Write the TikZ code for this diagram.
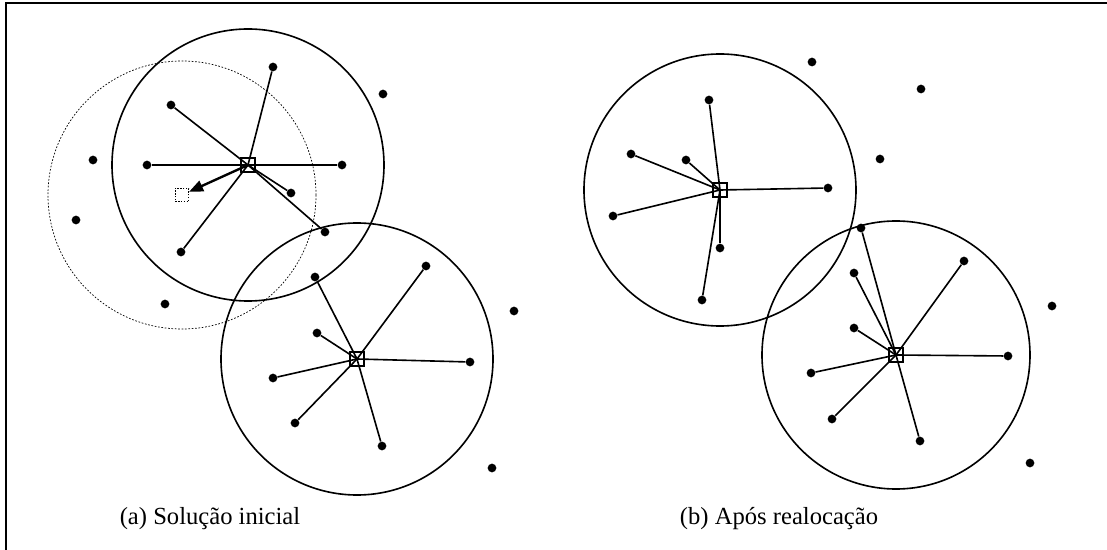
\documentclass[tikz,border=0pt]{standalone}
\usepackage{fontspec}
\setmainfont{Liberation Serif}
\usetikzlibrary{arrows.meta}
\tikzset{
  ponto/.style={circle,fill=black,inner sep=0pt,minimum size=6.2pt},
  facilidade/.style={draw,line width=1.4pt,inner sep=0pt,minimum size=9.5pt},
  novo/.style={draw,line width=0.5pt,dash pattern=on 1pt off 1pt,inner sep=0pt,minimum size=9.5pt},
  raio/.style={line width=1.15pt},
  ligacao/.style={line width=1.15pt},
  rotulo/.style={font=\fontsize{17.5}{20}\selectfont}
}
\begin{document}
\begin{tikzpicture}[x=0.025cm,y=-0.025cm]
\useasboundingbox (0,0) rectangle (1107,550);
\draw[line width=1.6pt] (6,550) -- (6,3) -- (1107,3);
% (a) solucao inicial
\node[facilidade] (fa1) at (248,165) {};
\node[facilidade] (fa2) at (357,359) {};
\node[novo] (fn) at (182,195) {};
\draw[raio] (fa1.center) circle (136);
\draw[line width=0.5pt,dash pattern=on 1.2pt off 1.2pt] (fn.center) circle (134);
\draw[raio] (fa2.center) circle (136);
\foreach \n/\x/\y in {a1/273/67,a2/171/105,a3/147/165,a4/342/165,a5/291/193,a6/325/232,a7/181/252,
  a8/315/277,a9/426/266,a10/317/333,a11/273/378,a12/470/362,a13/295/423,a14/382/446,
  ao1/383/94,ao2/93/160,ao3/76/220,ao4/165/304,ao5/514/311,ao6/492/468}
  \node[ponto] (\n) at (\x,\y) {};
\foreach \n in {a1,a2,a3,a4,a5,a6,a7}
  \draw[ligacao] (fa1.center) -- (\n);
\foreach \n in {a8,a9,a10,a11,a12,a13,a14}
  \draw[ligacao] (fa2.center) -- (\n);
\draw[line width=1.7pt,-{Triangle[length=10pt,width=8pt]}] (fa1.center) -- (fn);
\node[rotulo] (ta) at (210,519) {(a) Solução inicial};
% (b) apos realocacao
\node[facilidade] (fb1) at (720,190) {};
\node[facilidade] (fb2) at (896,355) {};
\draw[raio] (fb1.center) circle (136);
\draw[raio] (fb2.center) circle (134);
\foreach \n/\x/\y in {b1/709/100,b2/631/154,b3/686/160,b4/613/216,b5/828/188,b6/720/248,b7/702/300,
  b8/861/228,b9/854/273,b10/964/261,b11/854/328,b12/811/373,b13/1008/356,b14/832/419,b15/920/441,
  bo1/812/62,bo2/921/89,bo3/880/159,bo4/1052/306,bo5/1030/463}
  \node[ponto] (\n) at (\x,\y) {};
\foreach \n in {b1,b2,b3,b4,b5,b6,b7}
  \draw[ligacao] (fb1.center) -- (\n);
\foreach \n in {b8,b9,b10,b11,b12,b13,b14,b15}
  \draw[ligacao] (fb2.center) -- (\n);
\node[rotulo] (tb) at (779,519) {(b) Após realocação};
\end{tikzpicture}
\end{document}
